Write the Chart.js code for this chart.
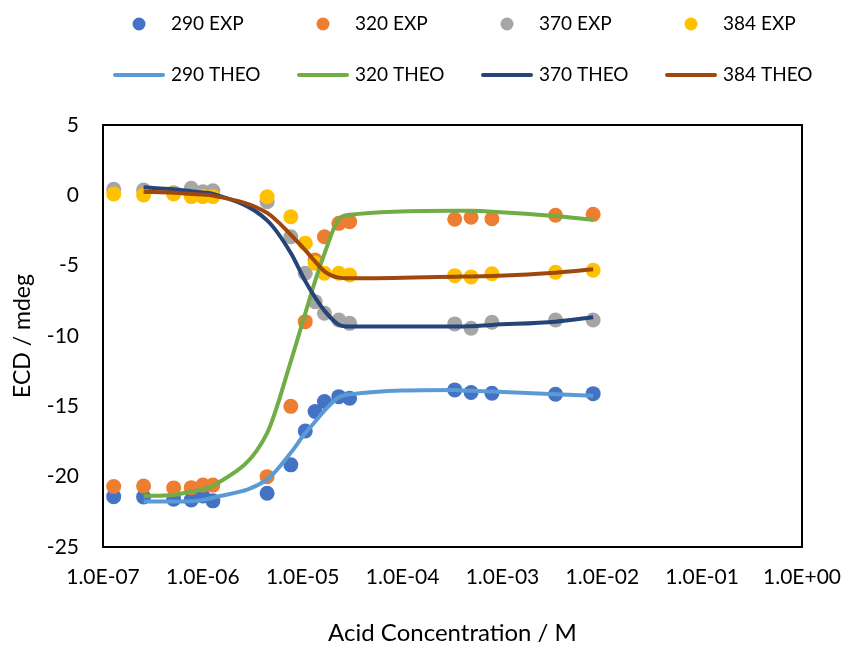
<!DOCTYPE html>
<html>
<head>
<meta charset="utf-8">
<script src="https://cdn.jsdelivr.net/npm/chart.js@4.4.1/dist/chart.umd.min.js"></script>
<style>
  html, body { margin: 0; padding: 0; background: #fff; }
</style>
</head>
<body>
<canvas id="grafico" width="859" height="649"></canvas>
<script>
// acid concentration (M) of each measured point
const concentracao = [1.28e-7, 2.55e-7, 5.1e-7, 7.65e-7, 1.0e-6, 1.26e-6, 4.4e-6, 7.6e-6, 1.06e-5,
  1.33e-5, 1.65e-5, 2.3e-5, 2.95e-5, 3.33e-4, 4.85e-4, 7.85e-4, 3.4e-3, 8.1e-3];

// experimental ECD (mdeg) at 290, 320, 370 and 384 nm
const exp290 = [-21.42, -21.44, -21.6, -21.65, -21.37, -21.72, -21.18, -19.16, -16.75,
  -15.37, -14.66, -14.31, -14.43, -13.83, -14.02, -14.07, -14.14, -14.1];
const exp320 = [-20.7, -20.66, -20.8, -20.78, -20.6, -20.6, -20.0, -15.0, -8.98,
  -4.6, -2.94, -1.99, -1.87, -1.7, -1.56, -1.66, -1.42, -1.35];
const exp370 = [0.43, 0.38, 0.19, 0.5, 0.26, 0.33, -0.45, -2.94, -5.54,
  -7.56, -8.38, -8.86, -9.1, -9.14, -9.45, -9.02, -8.86, -8.86];
const exp384 = [0.1, 0.02, 0.1, -0.09, -0.09, -0.09, -0.1, -1.52, -3.4,
  -4.83, -5.54, -5.54, -5.66, -5.71, -5.8, -5.57, -5.47, -5.33];

// theoretical curves (no point at the lowest concentration)
const concTeo = [2.55e-7, 5.1e-7, 7.65e-7, 1.0e-6, 1.26e-6, 4.4e-6, 7.6e-6, 1.06e-5,
  1.33e-5, 1.65e-5, 2.3e-5, 2.95e-5, 3.33e-4, 4.85e-4, 7.85e-4, 3.4e-3, 8.1e-3];
const teo290 = [-21.77, -21.77, -21.75, -21.65, -21.5, -20.2, -18.3, -16.9,
  -16.1, -15.3, -14.35, -14.15, -13.83, -13.9, -13.95, -14.14, -14.24];
const teo320 = [-21.37, -21.3, -21.06, -20.9, -20.66, -16.9, -11.8, -8.4,
  -6.1, -4.15, -1.67, -1.38, -1.09, -1.1, -1.16, -1.47, -1.75];
const teo370 = [0.57, 0.43, 0.3, 0.2, 0.1, -1.78, -4.1, -6.1,
  -7.26, -8.2, -9.2, -9.33, -9.33, -9.3, -9.21, -8.98, -8.67];
const teo384 = [0.26, 0.19, 0.1, 0.05, -0.02, -1.25, -2.8, -3.9,
  -4.7, -5.4, -5.85, -5.9, -5.78, -5.77, -5.73, -5.5, -5.26];

// axis ticks
const xTicks = [1e-7, 1e-6, 1e-5, 1e-4, 1e-3, 1e-2, 1e-1, 1e0];
const xTickLabels = ["1.0E-07", "1.0E-06", "1.0E-05", "1.0E-04", "1.0E-03", "1.0E-02", "1.0E-01", "1.0E+00"];

// joins x and y arrays into {x, y} points
function pontos(xs, ys) {
  return xs.map((x, i) => ({ x: x, y: ys[i] }));
}

function serieExp(label, ys, cor, ordem) {
  return {
    label: label, data: pontos(concentracao, ys), showLine: false,
    backgroundColor: cor, borderColor: cor, pointRadius: 7.5, pointHoverRadius: 7.5,
    pointBorderWidth: 0, order: ordem
  };
}

function serieTeo(label, ys, cor, ordem) {
  return {
    label: label, data: pontos(concTeo, ys), showLine: true,
    borderColor: cor, backgroundColor: cor, borderWidth: 4, pointRadius: 0,
    cubicInterpolationMode: "monotone", order: ordem
  };
}

// plot frame on all four sides
const moldura = {
  id: "moldura",
  beforeDatasetsDraw(chart) {
    const { ctx, chartArea: a } = chart;
    ctx.save();
    ctx.strokeStyle = "#000";
    ctx.lineWidth = 2;
    ctx.strokeRect(a.left, a.top, a.right - a.left, a.bottom - a.top);
    ctx.restore();
  }
};

// legend in two rows of four fixed columns, like the original
const legenda = {
  id: "legenda",
  afterDraw(chart) {
    const ctx = chart.ctx;
    ctx.save();
    ctx.font = "19px Lato";
    ctx.textBaseline = "middle";
    chart.data.datasets.forEach((ds, i) => {
      const x = 113 + (i % 4) * 184;
      const y = 24 + Math.floor(i / 4) * 51;
      if (ds.showLine) {
        ctx.strokeStyle = ds.borderColor;
        ctx.lineWidth = 4;
        ctx.lineCap = "round";
        ctx.beginPath();
        ctx.moveTo(x + 2, y);
        ctx.lineTo(x + 50, y);
        ctx.stroke();
      } else {
        ctx.fillStyle = ds.backgroundColor;
        ctx.beginPath();
        ctx.arc(x + 26, y, 6.5, 0, Math.PI * 2);
        ctx.fill();
      }
      ctx.fillStyle = "#000";
      ctx.fillText(ds.label, x + 58, y);
    });
    ctx.restore();
  }
};

Chart.defaults.font.family = "Lato";
Chart.defaults.color = "#000";

const canvas = document.getElementById("grafico");

const grafico = new Chart(canvas, {
  type: "scatter",
  data: {
    datasets: [
      serieExp("290 EXP", exp290, "#4472C4", 8),
      serieExp("320 EXP", exp320, "#ED7D31", 7),
      serieExp("370 EXP", exp370, "#A5A5A5", 6),
      serieExp("384 EXP", exp384, "#FFC000", 5),
      serieTeo("290 THEO", teo290, "#5B9BD5", 4),
      serieTeo("320 THEO", teo320, "#70AD47", 3),
      serieTeo("370 THEO", teo370, "#264478", 2),
      serieTeo("384 THEO", teo384, "#9E480E", 1)
    ]
  },
  options: {
    responsive: false,
    animation: false,
    devicePixelRatio: 1,
    layout: { padding: { top: 125, right: 41, left: 0, bottom: 0 } },
    plugins: {
      legend: { display: false },
      tooltip: { enabled: false }
    },
    scales: {
      x: {
        type: "logarithmic",
        min: 1e-7,
        max: 1,
        afterBuildTicks: (s) => { s.ticks = xTicks.map((v) => ({ value: v })); },
        afterFit: (s) => { s.height = 102; },
        grid: { display: false, drawTicks: false },
        border: { display: false },
        ticks: {
          autoSkip: false,
          maxRotation: 0,
          padding: 18,
          font: { size: 21 },
          callback: (v, i) => xTickLabels[i]
        },
        title: { display: true, text: "Acid Concentration / M", font: { size: 24 }, padding: { top: 0, bottom: 1 } }
      },
      y: {
        min: -25,
        max: 5,
        afterFit: (s) => { s.width = 103; },
        grid: { display: false, drawTicks: false },
        border: { display: false },
        ticks: { stepSize: 5, padding: 24, font: { size: 21 } },
        title: { display: true, text: "ECD / mdeg", font: { size: 23 }, padding: { top: 9, bottom: 0 } }
      }
    }
  },
  plugins: [moldura, legenda]
});
</script>
</body>
</html>
